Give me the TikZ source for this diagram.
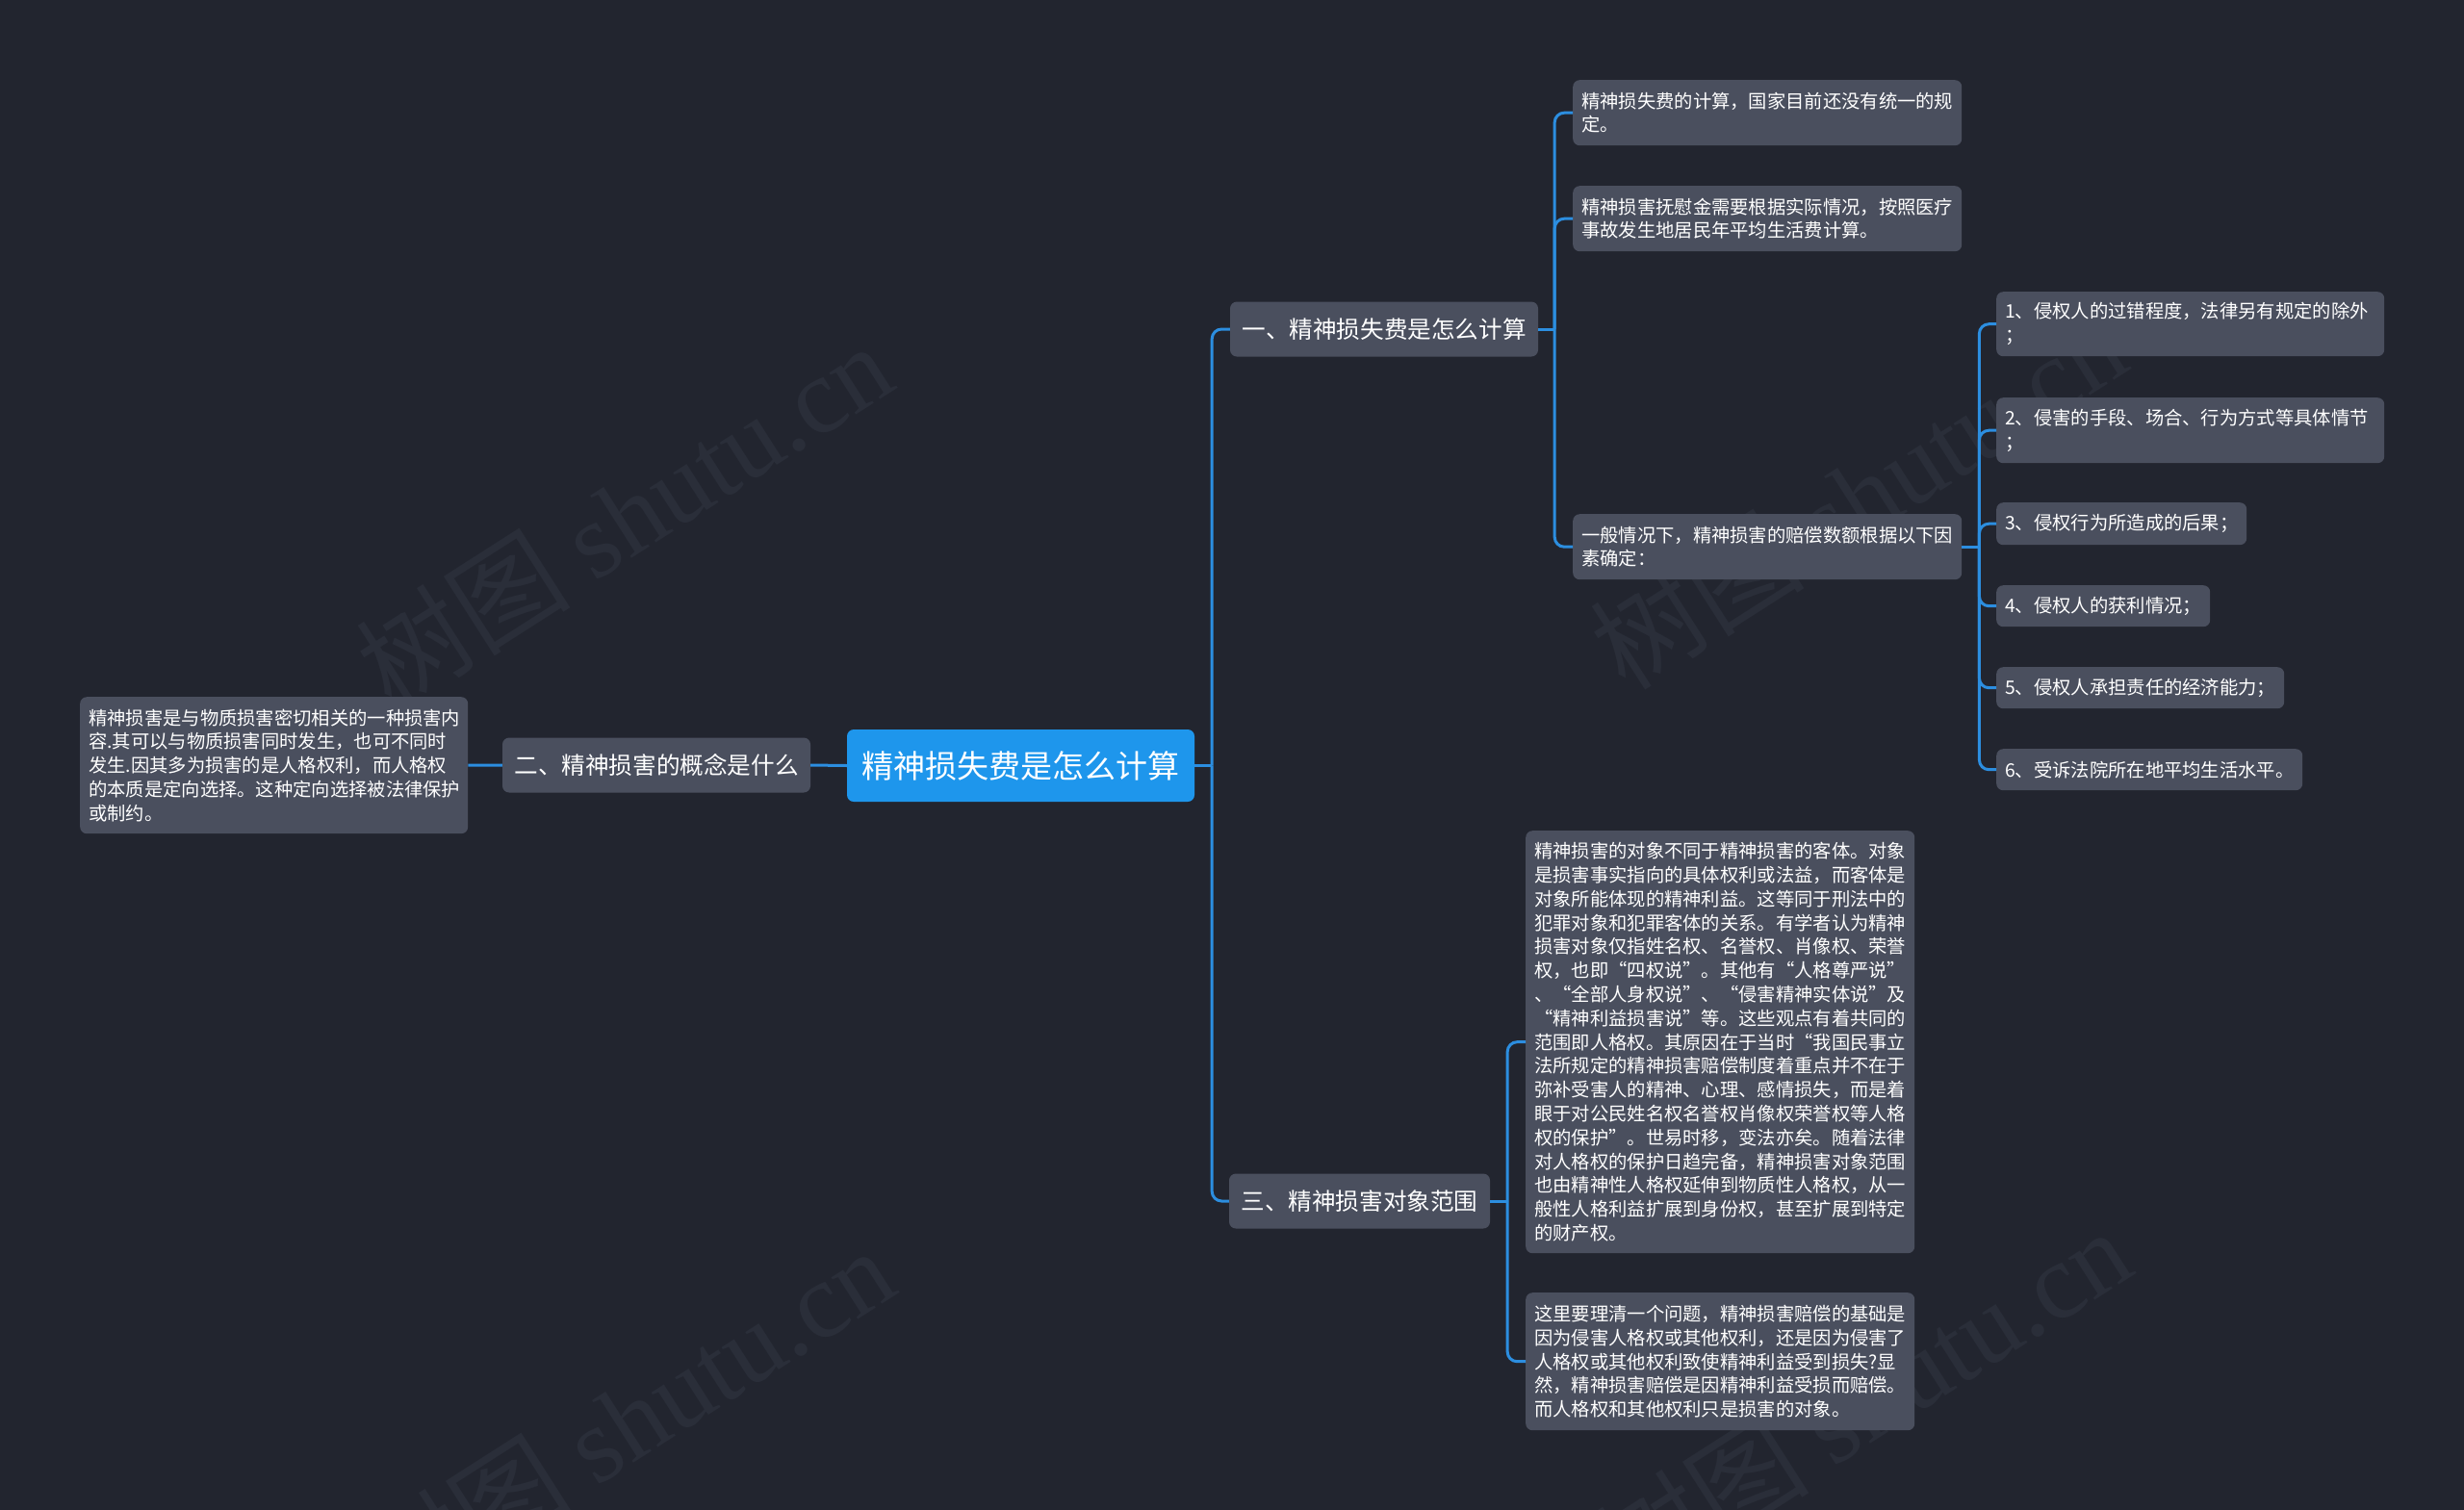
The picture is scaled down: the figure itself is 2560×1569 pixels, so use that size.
\documentclass[tikz,border=0pt]{standalone}
\usepackage{fontspec}
\setmainfont{Noto Sans CJK SC}
\newfontfamily\wmlatin{Liberation Serif}
\newfontfamily\wmcjk{Noto Sans CJK SC}
\definecolor{bgc}{HTML}{22252F}
\definecolor{boxfill}{HTML}{4A4F5E}
\definecolor{rootfill}{HTML}{1E96EC}
\definecolor{linec}{HTML}{2C8EE0}
\definecolor{wmc}{HTML}{2A2E39}
\begin{document}
\begin{tikzpicture}[x=1pt,y=-1pt,
  basebox/.style={rounded corners=7pt, text=white, inner xsep=9pt, inner ysep=0pt},
  leaf/.style={basebox, fill=boxfill, font=\fontsize{19.3}{24.8}\selectfont, align=left, anchor=north west},
  midbox/.style={basebox, fill=boxfill, font=\fontsize{24.6}{30}\selectfont, align=center, anchor=center, minimum height=57pt},
  rootbox/.style={basebox, fill=rootfill, font=\fontsize{33}{40}\selectfont, align=center, anchor=center, minimum height=75pt, minimum width=361pt},
  conn/.style={draw=linec, line width=3pt, rounded corners=10pt},
  wmark/.style={text=wmc, rotate=32.6, font=\fontsize{112}{112}\selectfont}
]
\useasboundingbox (0,0) rectangle (2560,1569);
\fill[bgc] (0,0) rectangle (2560,1569);

% watermarks
\node[wmark] (wm1) at (648,535) {\wmcjk 树图 \wmlatin shutu.cn};
\node[wmark] (wm2) at (1930,515) {\wmcjk 树图 \wmlatin shutu.cn};
\node[wmark] (wm3) at (650,1475) {\wmcjk 树图 \wmlatin shutu.cn};
\node[wmark] (wm4) at (1935,1455) {\wmcjk 树图 \wmlatin shutu.cn};

% root and level 1
\node[rootbox] (root) at (1060.5,795.5) {精神损失费是怎么计算};
\node[midbox, minimum width=320pt] (n2) at (682,795) {二、精神损害的概念是什么};
\node[midbox, minimum width=320pt] (n1) at (1438,342) {一、精神损失费是怎么计算};
\node[midbox, minimum width=271pt] (n3) at (1412.5,1248) {三、精神损害对象范围};

% left leaf
\node[leaf, text width=385pt, minimum height=142pt] (lbox) at (83,724) {精神损害是与物质损害密切相关的一种损害内\\容.其可以与物质损害同时发生，也可不同时\\发生.因其多为损害的是人格权利，而人格权\\的本质是定向选择。这种定向选择被法律保护\\或制约。};

% children of n1
\node[leaf, text width=386pt, minimum height=68pt] (a) at (1634,83) {精神损失费的计算，国家目前还没有统一的规\\定。};
\node[leaf, text width=386pt, minimum height=68pt] (b) at (1634,193) {精神损害抚慰金需要根据实际情况，按照医疗\\事故发生地居民年平均生活费计算。};
\node[leaf, text width=386pt, minimum height=68pt] (c) at (1634,534) {一般情况下，精神损害的赔偿数额根据以下因\\素确定：};

% items
\node[leaf, text width=385pt, minimum height=67pt] (i1) at (2074,303) {1、侵权人的过错程度，法律另有规定的除外\\；};
\node[leaf, text width=385pt, minimum height=68pt] (i2) at (2074,413) {2、侵害的手段、场合、行为方式等具体情节\\；};
\node[leaf, text width=242pt, minimum height=44pt] (i3) at (2074,522) {3、侵权行为所造成的后果；};
\node[leaf, text width=204pt, minimum height=43pt] (i4) at (2074,608) {4、侵权人的获利情况；};
\node[leaf, text width=281pt, minimum height=43pt] (i5) at (2074,693) {5、侵权人承担责任的经济能力；};
\node[leaf, text width=300pt, minimum height=43pt] (i6) at (2074,778) {6、受诉法院所在地平均生活水平。};

% children of n3
\node[leaf, text width=386pt, minimum height=439pt] (d) at (1585,863) {精神损害的对象不同于精神损害的客体。对象\\是损害事实指向的具体权利或法益，而客体是\\对象所能体现的精神利益。这等同于刑法中的\\犯罪对象和犯罪客体的关系。有学者认为精神\\损害对象仅指姓名权、名誉权、肖像权、荣誉\\权，也即“四权说”。其他有“人格尊严说”\\、“全部人身权说”、“侵害精神实体说”及\\“精神利益损害说”等。这些观点有着共同的\\范围即人格权。其原因在于当时“我国民事立\\法所规定的精神损害赔偿制度着重点并不在于\\弥补受害人的精神、心理、感情损失，而是着\\眼于对公民姓名权名誉权肖像权荣誉权等人格\\权的保护”。世易时移，变法亦矣。随着法律\\对人格权的保护日趋完备，精神损害对象范围\\也由精神性人格权延伸到物质性人格权，从一\\般性人格利益扩展到身份权，甚至扩展到特定\\的财产权。};
\node[leaf, text width=386pt, minimum height=143pt] (e) at (1585,1343) {这里要理清一个问题，精神损害赔偿的基础是\\因为侵害人格权或其他权利，还是因为侵害了\\人格权或其他权利致使精神利益受到损失?显\\然，精神损害赔偿是因精神利益受损而赔偿。\\而人格权和其他权利只是损害的对象。};

% connectors
\coordinate (j0) at ([xshift=18pt]root.east);
\draw[conn] (root.east) -- (j0);
\draw[conn] (j0) |- (n1.west);
\draw[conn] (j0) |- (n3.west);
\draw[conn] (root.west) -- (n2.east);
\draw[conn] (n2.west) -- (lbox.east);

\coordinate (j1) at ([xshift=17pt]n1.east);
\draw[conn] (n1.east) -- (j1);
\foreach \t in {a,b,c} \draw[conn] (j1) |- (\t.west);

\coordinate (j2) at ([xshift=18pt]c.east);
\draw[conn] (c.east) -- (j2);
\foreach \t in {i1,i2,i3,i4,i5,i6} \draw[conn] (j2) |- (\t.west);

\coordinate (j3) at ([xshift=18pt]n3.east);
\draw[conn] (n3.east) -- (j3);
\foreach \t in {d,e} \draw[conn] (j3) |- (\t.west);
\end{tikzpicture}
\end{document}
